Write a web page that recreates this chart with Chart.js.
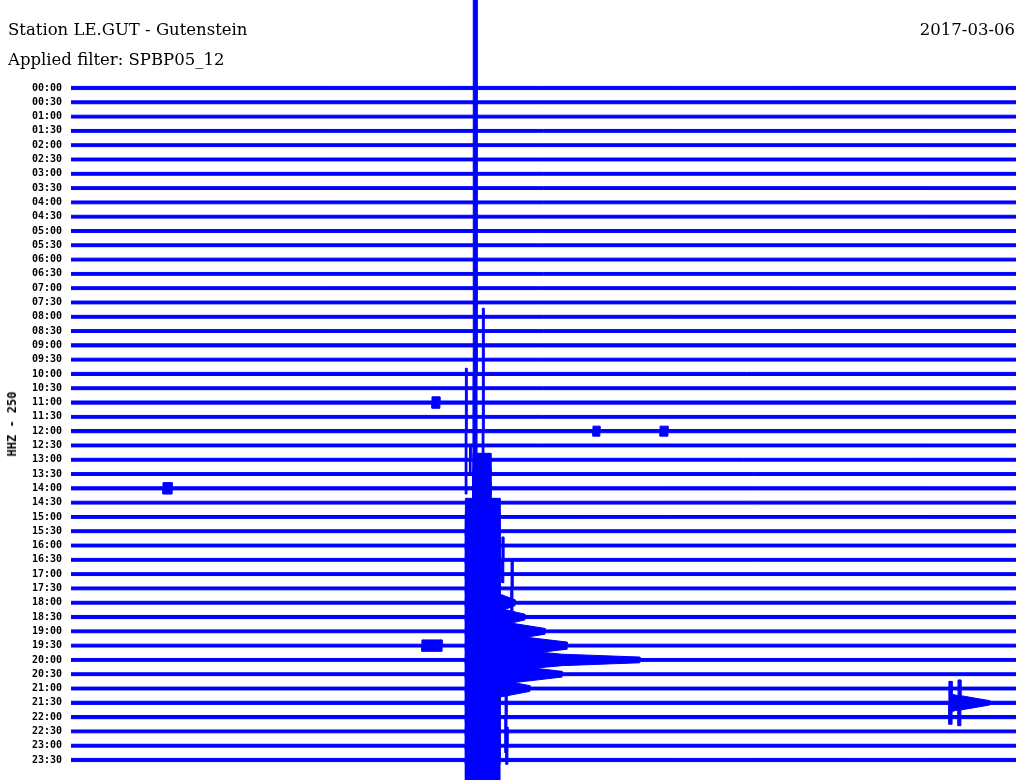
<!DOCTYPE html>
<html>
<head>
<meta charset="utf-8">
<script src="https://cdn.jsdelivr.net/npm/chart.js@4.4.1/dist/chart.umd.min.js"></script>
<style>
  body { margin: 0; background: #fff; }
  #wrap { position: relative; width: 1024px; height: 780px; }
  .txt { position: absolute; font-family: "DejaVu Serif", serif; font-size: 16.5px; line-height: 16px; color: #000; white-space: nowrap; }
  #ytitle { position: absolute; left: 12px; top: 424px; transform: translate(-50%, -50%) rotate(-90deg);
            font-family: "DejaVu Sans Mono", monospace; font-weight: bold; font-size: 12px; white-space: nowrap; }
</style>
</head>
<body>
<div id="wrap">
  <canvas id="heli"></canvas>
  <div class="txt" style="left:8px; top:22px">Station LE.GUT - Gutenstein</div>
  <div class="txt" style="right:9px; top:22px">2017-03-06</div>
  <div class="txt" style="left:8px; top:52px">Applied filter: SPBP05_12</div>
  <div id="ytitle">HHZ - 250</div>
</div>
<script>
// one line per half hour, x in minutes inside the line
const rowLabels = ["00:00","00:30","01:00","01:30","02:00","02:30","03:00","03:30","04:00","04:30",
  "05:00","05:30","06:00","06:30","07:00","07:30","08:00","08:30","09:00","09:30",
  "10:00","10:30","11:00","11:30","12:00","12:30","13:00","13:30","14:00","14:30",
  "15:00","15:30","16:00","16:30","17:00","17:30","18:00","18:30","19:00","19:30",
  "20:00","20:30","21:00","21:30","22:00","22:30","23:00","23:30"];

// background noise half-amplitude per line (in line spacings)
const noiseAmp = [0.11,0.10,0.10,0.10,0.10,0.10,0.10,0.10,0.10,0.10,
  0.10,0.10,0.10,0.10,0.10,0.10,0.10,0.10,0.11,0.10,
  0.11,0.10,0.11,0.10,0.11,0.10,0.10,0.10,0.11,0.10,
  0.10,0.10,0.10,0.10,0.10,0.10,0.10,0.11,0.10,0.10,
  0.10,0.10,0.10,0.11,0.11,0.10,0.10,0.11];

// signal bursts: [line, start min, end min, amp at start, amp at end]
const bursts = [
  [20, 12.77, 12.89, 30, 30],
  [22, 11.46, 11.71, 0.4, 0.4],
  [24, 12.52, 12.57, 4.4, 4.4],
  [24, 13.06, 13.11, 8.6, 8.6],
  [24, 16.57, 16.79, 0.35, 0.35],
  [24, 18.70, 18.95, 0.35, 0.35],
  [26, 12.65, 12.70, 1.05, 1.05],
  [27, 12.76, 13.33, 1.45, 1.45],
  [28, 2.92, 3.21, 0.4, 0.4],
  [28, 12.76, 13.33, 1.45, 1.45],
  [29, 12.76, 13.33, 1.3, 1.3],
  [30, 12.52, 13.62, 1.3, 1.3],
  [31, 12.52, 13.62, 1.3, 1.3],
  [32, 12.52, 13.62, 1.3, 1.3],
  [33, 12.52, 13.62, 1.3, 1.3],
  [33, 13.68, 13.74, 1.6, 1.6],
  [34, 12.52, 13.62, 1.3, 1.3],
  [35, 12.52, 13.62, 1.3, 1.3],
  [35, 13.97, 14.03, 2.0, 2.0],
  [36, 12.52, 13.62, 1.3, 1.3],
  [36, 13.62, 14.10, 0.6, 0.2],
  [37, 12.52, 13.62, 1.3, 1.3],
  [37, 13.62, 14.41, 0.6, 0.2],
  [38, 12.52, 13.62, 1.3, 1.3],
  [38, 13.62, 15.05, 0.7, 0.2],
  [39, 11.14, 11.78, 0.4, 0.4],
  [39, 12.52, 13.62, 1.3, 1.3],
  [39, 13.62, 15.75, 0.8, 0.25],
  [40, 12.52, 13.62, 1.3, 1.3],
  [40, 13.62, 15.59, 0.8, 0.4],
  [40, 15.59, 18.06, 0.4, 0.2],
  [41, 12.52, 13.62, 1.3, 1.3],
  [41, 13.62, 15.59, 0.7, 0.2],
  [42, 12.52, 13.62, 1.3, 1.3],
  [42, 13.62, 14.57, 0.6, 0.2],
  [43, 12.52, 13.62, 1.3, 1.3],
  [43, 27.87, 27.97, 1.5, 1.5],
  [43, 27.97, 28.16, 0.6, 0.5],
  [43, 28.16, 28.25, 1.6, 1.6],
  [43, 28.25, 29.17, 0.5, 0.15],
  [44, 12.52, 13.62, 1.3, 1.3],
  [44, 13.78, 13.84, 2.5, 2.5],
  [45, 12.52, 13.62, 1.3, 1.3],
  [46, 12.52, 13.62, 1.3, 1.3],
  [46, 13.81, 13.87, 1.3, 1.3],
  [47, 12.52, 13.62, 1.4, 1.4]
];

const BLUE = "#0000ff";

function envelope(row) {
  const base = noiseAmp[row];
  const list = bursts.filter(b => b[0] === row).sort((a, b) => a[1] - b[1]);
  const pts = [[0, base]];
  let last = 0;
  list.forEach(([, x0, x1, a0, a1], k) => {
    if (x0 > last) pts.push([x0, base]);
    pts.push([x0, a0], [x1, a1]);
    const next = list[k + 1];
    if (!next || next[1] > x1) pts.push([x1, base]);
    last = x1;
  });
  pts.push([30, base]);
  return pts;
}

const datasets = [];
rowLabels.forEach((lab, row) => {
  const env = envelope(row);
  datasets.push({
    data: env.map(p => ({ x: p[0], y: row - p[1] })),
    borderColor: BLUE, borderWidth: 1, pointRadius: 0, tension: 0, fill: false
  });
  datasets.push({
    data: env.map(p => ({ x: p[0], y: row + p[1] })),
    borderColor: BLUE, backgroundColor: BLUE, borderWidth: 1, pointRadius: 0, tension: 0, fill: "-1"
  });
});

new Chart(document.getElementById("heli"), {
  type: "line",
  data: { datasets: datasets },
  options: {
    animation: false,
    responsive: true,
    maintainAspectRatio: false,
    layout: { padding: { left: 0, right: 8, top: 0, bottom: 0 } },
    plugins: { legend: { display: false }, tooltip: { enabled: false }, title: { display: false } },
    scales: {
      x: { type: "linear", min: 0, max: 30, display: false },
      y: {
        reverse: true,
        min: -6.155,
        max: 48.399,
        grid: { display: false, drawTicks: false },
        border: { display: false },
        ticks: {
          autoSkip: false,
          padding: 9,
          color: "#000",
          font: { family: "DejaVu Sans Mono", size: 10, weight: "bold" },
          callback: v => rowLabels[v]
        },
        afterBuildTicks: s => { s.ticks = rowLabels.map((_, i) => ({ value: i })); },
        afterFit: s => { s.width = 71; s.paddingTop = 0; s.paddingBottom = 0; }
      }
    }
  }
});
</script>
</body>
</html>
